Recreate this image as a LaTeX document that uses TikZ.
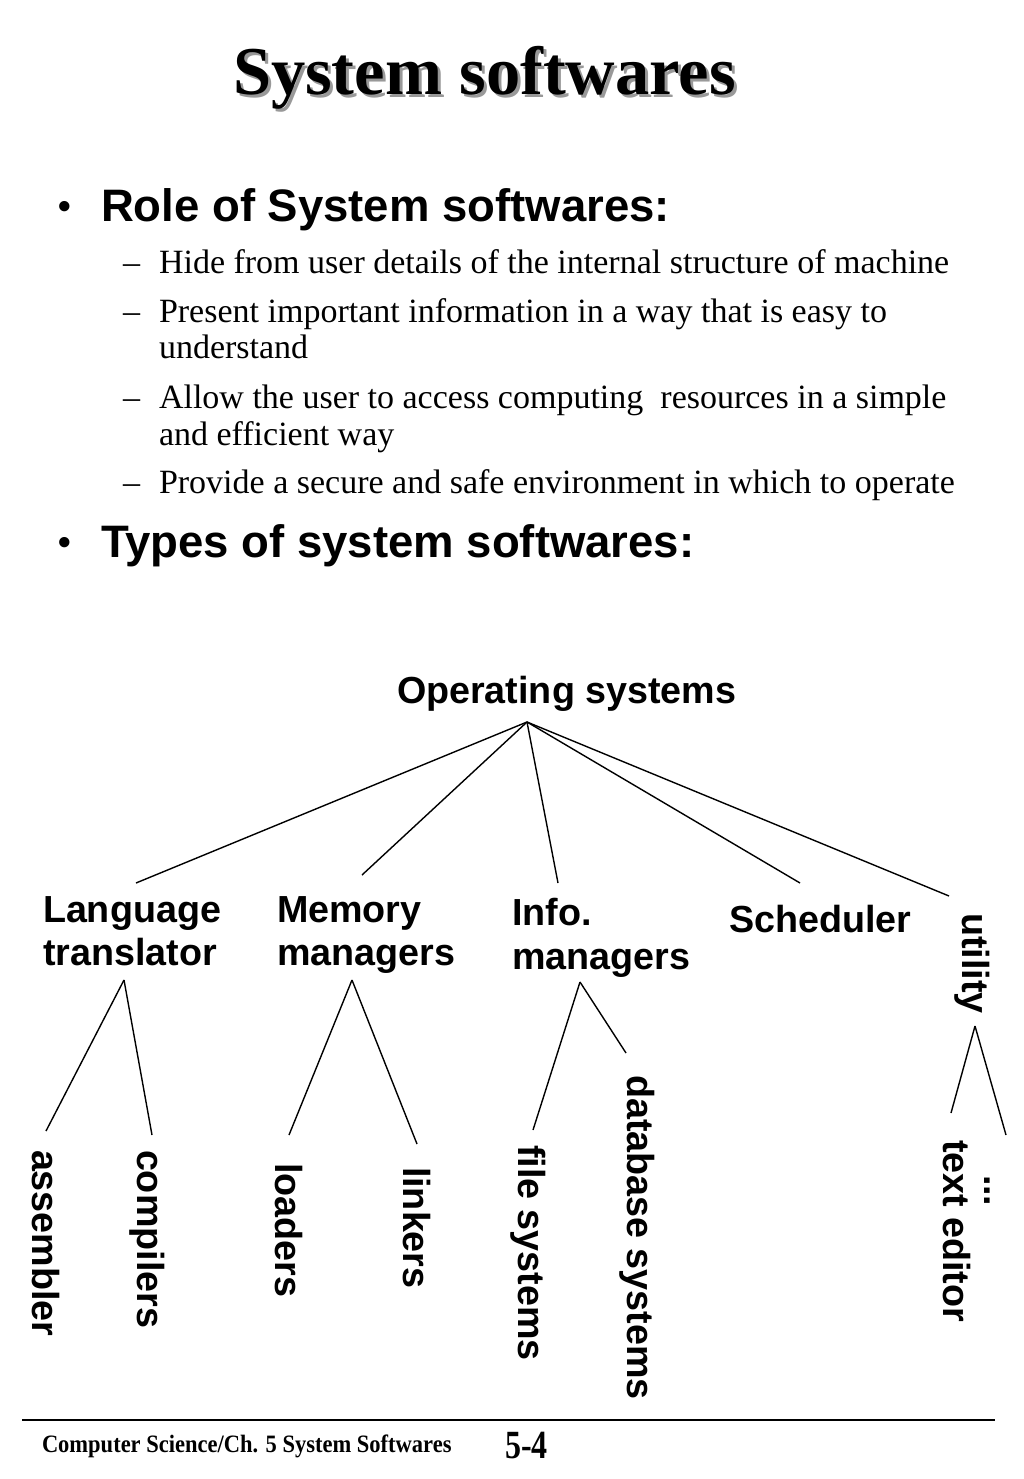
\documentclass[tikz,border=0pt]{standalone}
\usepackage{fontspec}
\setmainfont{Liberation Serif}
\newfontfamily\sansfam{Liberation Sans}
\newfontfamily\footfam{Liberation Serif}[FakeStretch=0.9]
\newfontfamily\pagefam{Liberation Serif}[FakeStretch=0.8]
\begin{document}
\begin{tikzpicture}[x=1pt,y=-1pt,
  every node/.style={inner sep=0pt,outer sep=0pt},
  titletext/.style={anchor=base west,font=\fontsize{68.5}{78}\selectfont\bfseries},
  headtext/.style={anchor=base west,font=\sansfam\bfseries\fontsize{45.5}{52}\selectfont},
  dottext/.style={anchor=base west,font=\sansfam\bfseries\fontsize{36}{40}\selectfont},
  subtext/.style={anchor=base west,font=\fontsize{34}{37}\selectfont},
  lbl/.style={anchor=base west,font=\sansfam\bfseries\fontsize{37.7}{43}\selectfont},
  rotlbl/.style={lbl,rotate=-90},
  link/.style={line width=1.4pt,black},
  footline/.style={line width=2pt,black}]
\useasboundingbox (0,0) rectangle (1024,1479);
\fill[white] (0,0) rectangle (1024,1479);

% title with shadow
\node[titletext,text=black!40] (titleshadow) at (236,98) {System softwares};
\node[titletext] (title) at (233,95) {System softwares};

% bullets
\node[dottext] (b1dot) at (58,219) {•};
\node[headtext] (b1) at (101,222) {Role of System softwares:};
\node[subtext] (d1) at (123,273) {–};
\node[subtext] (s1) at (159,273) {Hide from user details of the internal structure of machine};
\node[subtext] (d2) at (123,322) {–};
\node[subtext] (s2a) at (159,322) {Present important information in a way that is easy to};
\node[subtext] (s2b) at (159,358) {understand};
\node[subtext] (d3) at (123,408) {–};
\node[subtext] (s3a) at (159,408) {Allow the user to access computing\ \ resources in a simple};
\node[subtext] (s3b) at (159,445) {and efficient way};
\node[subtext] (d4) at (123,493) {–};
\node[subtext] (s4) at (159,493) {Provide a secure and safe environment in which to operate};
\node[dottext] (b2dot) at (58,554) {•};
\node[headtext] (b2) at (101,557) {Types of system softwares:};

% tree labels
\node[lbl] (os) at (397,703) {Operating systems};
\node[lbl] (lt1) at (43,922) {Language};
\node[lbl] (lt2) at (43,965) {translator};
\node[lbl] (mm1) at (277,922) {Memory};
\node[lbl] (mm2) at (277,965) {managers};
\node[lbl] (im1) at (512,925) {Info.};
\node[lbl] (im2) at (512,969) {managers};
\node[lbl] (sch) at (729,932) {Scheduler};
\node[rotlbl] (ut) at (962,913) {utility};

\node[rotlbl] (asm) at (32,1150) {assembler};
\node[rotlbl] (cmp) at (137,1150) {compilers};
\node[rotlbl] (ldr) at (275,1163) {loaders};
\node[rotlbl] (lnk) at (403,1167) {linkers};
\node[rotlbl] (fs) at (518,1145) {file systems};
\node[rotlbl] (dbs) at (627,1075) {database systems};
\node[rotlbl] (ted) at (943,1140) {text editor};
\node[rotlbl] (dots) at (984,1175) {...};

% connector end points
\coordinate (osR) at (527,722);
\coordinate (ltT) at (136,883);
\coordinate (mmT) at (362,875);
\coordinate (imT) at (558,883);
\coordinate (schT) at (800,883);
\coordinate (utT) at (949,896);
\coordinate (ltB) at (124,980);
\coordinate (asmT) at (46,1131);
\coordinate (cmpT) at (152,1135);
\coordinate (mmB) at (352,980);
\coordinate (ldrT) at (289,1135);
\coordinate (lnkT) at (417,1144);
\coordinate (imB) at (580,982);
\coordinate (fsT) at (533,1130);
\coordinate (dbsT) at (626,1053);
\coordinate (utB) at (975,1026);
\coordinate (tedT) at (951,1113);
\coordinate (dotsT) at (1006,1135);

\draw[link] (osR) -- (ltT);
\draw[link] (osR) -- (mmT);
\draw[link] (osR) -- (imT);
\draw[link] (osR) -- (schT);
\draw[link] (osR) -- (utT);
\draw[link] (ltB) -- (asmT);
\draw[link] (ltB) -- (cmpT);
\draw[link] (mmB) -- (ldrT);
\draw[link] (mmB) -- (lnkT);
\draw[link] (imB) -- (fsT);
\draw[link] (imB) -- (dbsT);
\draw[link] (utB) -- (tedT);
\draw[link] (utB) -- (dotsT);

% footer
\coordinate (fl) at (22,1420);
\coordinate (fr) at (995,1420);
\draw[footline] (fl) -- (fr);
\node[anchor=base west,font=\footfam\bfseries\fontsize{25}{30}\selectfont] (foot) at (42,1452) {Computer Science/Ch. 5 System Softwares};
\node[anchor=base west,font=\pagefam\bfseries\fontsize{40}{46}\selectfont] (pg) at (505,1458) {5-4};
\end{tikzpicture}
\end{document}
